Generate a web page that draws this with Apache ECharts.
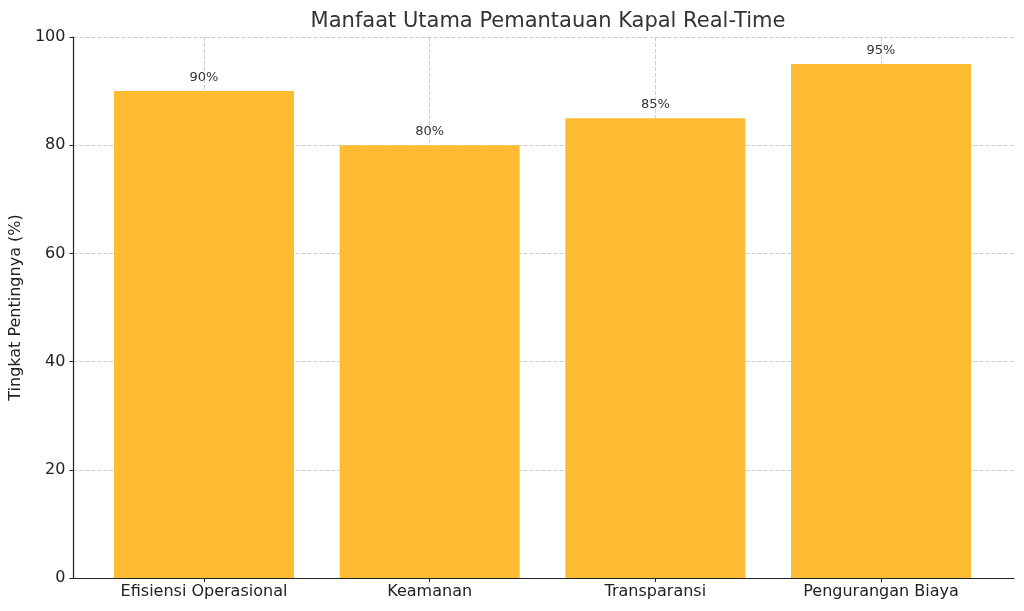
<!DOCTYPE html><html><head><meta charset="utf-8"><script src="https://cdn.jsdelivr.net/npm/echarts@6/dist/echarts.min.js"></script></head><body style="margin:0"><div id="c" style="width:1024px;height:611px"></div><script>
const categories=['Efisiensi Operasional','Keamanan','Transparansi','Pengurangan Biaya'];
const values=[90,80,85,95];
const yTicks=[0,20,40,60,80,100];
const c=echarts.init(document.getElementById('c'));
const font='DejaVu Sans';
c.setOption({animation:false,textStyle:{fontFamily:font},
title:{text:'Manfaat Utama Pemantauan Kapal Real-Time',left:543,top:6,textAlign:'center',textStyle:{fontSize:21,fontWeight:'normal',color:'#333',fontFamily:font}},
grid:[{left:72,right:10,top:37,bottom:33},{left:204,right:143,top:37,bottom:33}],
xAxis:[{gridIndex:0,type:'value',min:0,max:1,axisLine:{show:true,lineStyle:{color:'#222',width:1.2}},axisTick:{show:false},axisLabel:{show:false},splitLine:{show:false}},
{gridIndex:1,type:'value',min:0,max:3,interval:1,axisLine:{show:false},axisTick:{show:true,length:4,lineStyle:{color:'#222'}},axisLabel:{fontSize:16,color:'#222',margin:6,formatter:v=>categories[v]||''},splitLine:{show:true,lineStyle:{type:'dashed',color:'#ccc'}}}],
yAxis:[{gridIndex:0,type:'value',min:0,max:100,interval:20,name:'Tingkat Pentingnya (%)',nameLocation:'middle',nameGap:48,nameTextStyle:{fontSize:16,color:'#222'},axisLine:{show:true,lineStyle:{color:'#222',width:1.2}},axisTick:{show:true,length:4},axisLabel:{fontSize:16,color:'#222'},splitLine:{show:true,lineStyle:{type:'dashed',color:'#ccc'}}},
{gridIndex:1,type:'value',min:0,max:100,show:false,splitLine:{show:false}}],
series:[{type:'bar',xAxisIndex:1,yAxisIndex:1,barWidth:180,data:values.map((v,i)=>[i,v]),itemStyle:{color:'#FDBC33'},z:1,
label:{show:true,position:'top',distance:7,fontSize:13,color:'#333',formatter:p=>p.value[1]+'%'}}]
});
</script></body></html>
